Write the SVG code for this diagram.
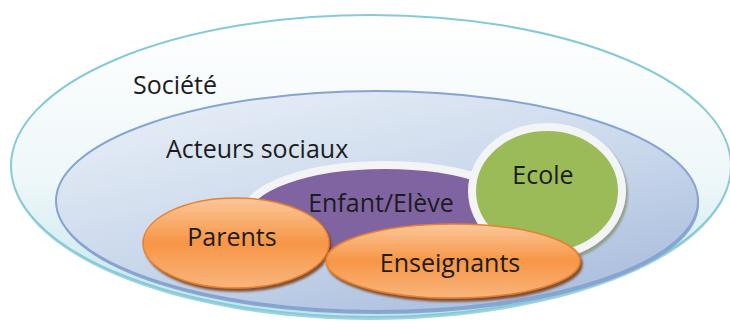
<svg xmlns="http://www.w3.org/2000/svg" width="730" height="321" viewBox="0 0 730 321">
<defs>
<linearGradient id="gOuter" x1="0" y1="0" x2="0" y2="1">
<stop offset="0" stop-color="#ffffff"/>
<stop offset="0.55" stop-color="#eef7f9"/>
<stop offset="1" stop-color="#bfe4ec"/>
</linearGradient>
<linearGradient id="gInner" x1="0.2" y1="0.1" x2="0.8" y2="1">
<stop offset="0" stop-color="#e3ebf5"/>
<stop offset="0.5" stop-color="#c9d7eb"/>
<stop offset="1" stop-color="#a8bcdc"/>
</linearGradient>
<linearGradient id="gOrange" x1="0" y1="0" x2="0" y2="1">
<stop offset="0" stop-color="#fbc79a"/>
<stop offset="0.5" stop-color="#f79646"/>
<stop offset="1" stop-color="#f9b57d"/>
</linearGradient>
<filter id="sh" x="-10%" y="-10%" width="125%" height="130%">
<feGaussianBlur in="SourceAlpha" stdDeviation="1"/>
<feOffset dx="2" dy="3" result="o"/>
<feFlood flood-color="#7a3a10" flood-opacity="0.85"/>
<feComposite in2="o" operator="in"/>
<feMerge><feMergeNode/><feMergeNode in="SourceGraphic"/></feMerge>
</filter>
<filter id="shg" x="-10%" y="-10%" width="125%" height="130%">
<feGaussianBlur in="SourceAlpha" stdDeviation="0.8"/>
<feOffset dx="2" dy="3" result="o"/>
<feFlood flood-color="#8d9a86" flood-opacity="0.9"/>
<feComposite in2="o" operator="in"/>
<feMerge><feMergeNode/><feMergeNode in="SourceGraphic"/></feMerge>
</filter>
</defs>
<style>
text{font-family:"Open Sans","Liberation Sans",sans-serif;font-size:25px;fill:#1c1c1c;}
.mid{text-anchor:middle;}
.orange{fill:url(#gOrange);stroke:#e9802e;stroke-width:1.5;filter:url(#sh);}
</style>
<rect width="730" height="321" fill="#ffffff"/>
<g id="societe">
<ellipse cx="371" cy="168" rx="360" ry="152" fill="#9fd3de"/>
<ellipse cx="371" cy="166" rx="360" ry="151" fill="url(#gOuter)" stroke="#86cad9" stroke-width="2"/>
<text x="133" y="94">Société</text>
</g>
<g id="acteurs">
<ellipse cx="378" cy="204" rx="321" ry="110" fill="#8aa6cf"/>
<ellipse cx="377" cy="201" rx="321" ry="110" fill="url(#gInner)" stroke="#86a4d2" stroke-width="2"/>
<text x="166" y="158">Acteurs sociaux</text>
</g>
<g id="enfant">
<ellipse cx="385" cy="215" rx="140" ry="50" fill="#8064a2" stroke="#f2f4f6" stroke-width="8"/>
<text class="mid" x="381" y="212">Enfant/Elève</text>
</g>
<g id="ecole">
<ellipse cx="547" cy="191" rx="75" ry="64" fill="#9bbb59" stroke="#f2f4f6" stroke-width="8" filter="url(#shg)"/>
<text class="mid" x="543" y="184">Ecole</text>
</g>
<g id="parents">
<ellipse class="orange" cx="236" cy="243" rx="93" ry="45"/>
<text class="mid" x="232" y="246">Parents</text>
</g>
<g id="enseignants">
<ellipse class="orange" cx="453" cy="261" rx="127" ry="37"/>
<text class="mid" x="450" y="272">Enseignants</text>
</g>
<g id="connectors"/>
</svg>
